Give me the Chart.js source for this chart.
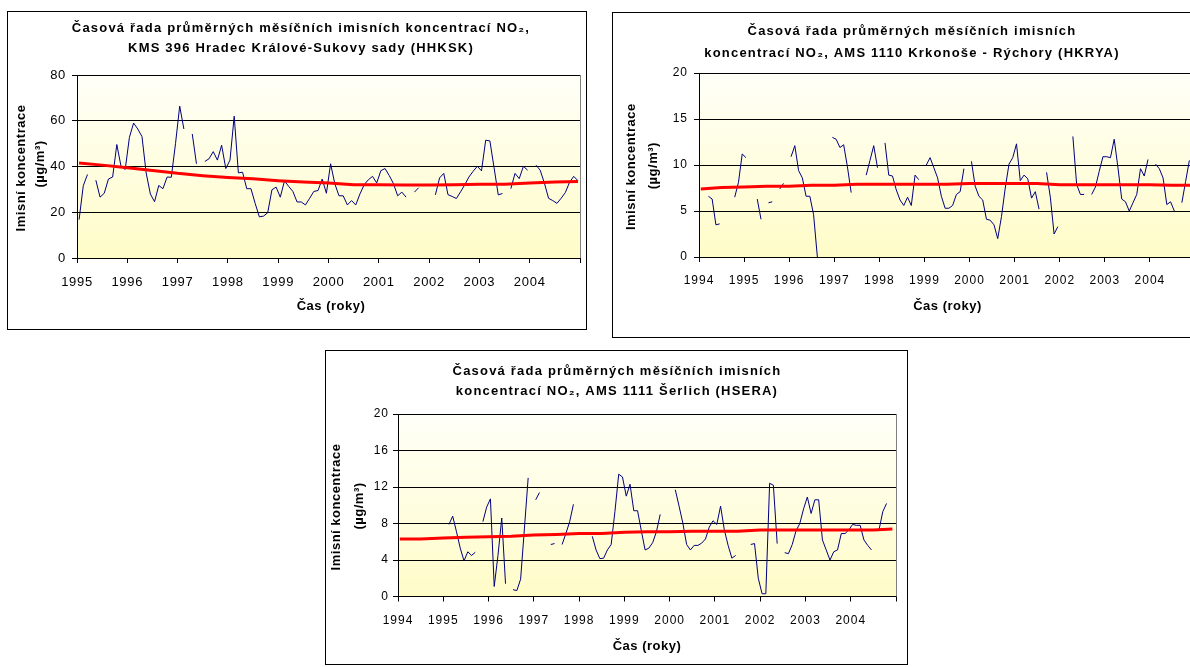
<!DOCTYPE html>
<html><head><meta charset="utf-8">
<script src="https://cdn.jsdelivr.net/npm/chart.js@4.4.1/dist/chart.umd.min.js"></script>
<style>
html,body{margin:0;padding:0;background:#fff;overflow:hidden;width:1190px;height:667px;position:relative;}
canvas{position:absolute;}
</style></head><body>
<canvas id="c1" width="580" height="319" style="left:7px;top:11px;width:580px;height:319px"></canvas>
<canvas id="c2" width="600" height="326" style="left:612px;top:12px;width:600px;height:326px"></canvas>
<canvas id="c3" width="583" height="315" style="left:325px;top:350px;width:583px;height:315px"></canvas>
<script>
// ---------- DATA ----------
// Chart 1: KMS 396 Hradec Králové-Sukovy sady, monthly means Jan 1995 – Dec 2004
const hhkskStartYear = 1995;
const hhkskValues = [
  16.8,31.6,36.5,null,34.0,26.6,28.3,34.5,35.4,49.6,40.1,38.7,
  52.7,59.0,56.4,53.1,37.2,28.0,24.6,31.7,30.3,35.4,35.3,50.0,
  66.4,56.4,null,54.2,41.2,null,42.2,43.4,46.5,42.8,49.3,39.1,
  42.8,62.0,37.2,37.5,30.3,30.3,23.9,18.0,18.3,19.8,29.8,31.0,
  26.6,33.7,31.3,29.1,24.5,24.5,23.2,26.1,29.1,29.5,34.5,28.3,
  41.2,32.5,27.2,27.2,23.2,25.1,23.2,28.0,32.0,34.2,35.7,32.8,
  38.2,39.1,36.0,32.5,27.2,28.8,26.6,null,28.8,30.7,null,null,
  null,27.6,35.0,37.0,27.7,26.9,26.0,28.9,32.0,35.4,37.9,40.1,
  38.1,51.5,51.2,39.5,27.6,28.2,null,30.3,37.0,34.7,40.1,38.4,
  null,40.6,38.4,32.8,26.1,25.1,23.9,26.1,28.6,33.1,35.7,33.8
];
const hhkskTrendX = [1995.04,1995.5,1996,1996.5,1997,1997.5,1998,1998.5,1999,1999.5,2000,2000.5,2001,2001.5,2002,2002.5,2003,2003.5,2004,2004.5,2004.96];
const hhkskTrendY = [41.5,40.6,39.5,38.3,37.0,36.0,35.2,34.6,33.8,33.2,32.8,32.0,32.0,31.9,31.9,32.0,32.2,32.2,32.8,33.2,33.4];

// Chart 2: AMS 1110 Krkonoše - Rýchory, monthly means Jan 1994 – Dec 2004
const hkryaStartYear = 1994;
const hkryaValues = [
  null,null,6.6,6.3,3.5,3.6,null,null,null,6.5,8.1,11.2,
  10.8,null,null,6.3,4.1,null,5.9,6.0,null,7.4,8.0,null,
  10.9,12.1,9.4,8.6,6.6,6.6,4.6,0.0,null,null,null,13.0,
  12.8,11.9,12.2,9.8,7.0,null,null,null,8.9,10.5,12.1,9.7,
  null,12.4,8.9,8.8,7.3,6.2,5.6,6.5,5.6,8.9,8.4,null,
  10.0,10.8,9.7,8.6,6.6,5.3,5.3,5.6,6.8,7.1,9.6,null,
  10.4,7.7,6.6,6.2,4.1,4.0,3.5,2.0,4.4,7.5,10.1,10.8,
  12.3,8.3,8.9,8.5,6.4,7.1,5.2,null,9.2,6.5,2.5,3.3,
  null,null,null,13.1,7.9,6.8,6.8,null,6.8,7.6,9.3,10.9,
  10.9,10.8,12.8,9.7,6.3,6.0,5.0,5.9,6.8,9.6,8.8,10.6,
  null,10.1,9.6,8.6,5.7,6.0,5.0,null,5.9,8.2,10.5,null
];
const hkryaTrendX = [1994.04,1994.5,1995,1995.5,1996,1996.5,1997,1997.5,1998,1998.5,1999,1999.5,2000,2000.5,2001,2001.5,2002,2002.5,2003,2003.5,2004,2004.5,2004.96];
const hkryaTrendY = [7.4,7.55,7.6,7.7,7.7,7.8,7.8,7.9,7.9,7.9,7.9,7.9,8.0,8.0,8.0,8.0,7.85,7.85,7.85,7.85,7.85,7.8,7.8];

// Chart 3: AMS 1111 Šerlich, monthly means Jan 1994 – Dec 2004
const hseraStartYear = 1994;
const hseraValues = [
  null,null,null,null,null,null,null,null,null,null,null,null,
  null,7.9,8.8,7.1,5.3,3.9,4.9,4.5,4.85,null,8.2,9.8,
  10.7,1.1,4.5,8.6,1.4,null,0.75,0.65,1.9,7.4,13.0,null,
  10.6,11.4,null,null,5.7,5.8,null,5.7,6.9,8.2,10.1,null,
  null,null,null,6.6,5.1,4.15,4.2,5.1,5.7,9.3,13.4,13.1,
  11.0,12.3,9.4,9.4,7.2,5.1,5.3,5.9,7.1,9.0,null,null,
  null,11.7,9.9,8.05,5.7,5.1,5.6,5.6,5.85,6.3,7.6,8.3,
  7.9,9.9,7.3,5.6,4.2,4.5,null,null,null,5.7,5.8,2.0,
  0.3,0.3,12.4,12.2,5.8,null,4.8,4.7,5.7,7.2,8.0,9.6,
  10.9,9.1,10.6,10.6,6.2,5.1,4.0,4.9,5.1,6.9,6.9,7.3,
  7.9,7.8,7.8,6.2,5.6,5.1,null,7.3,9.3,10.2,null,null
];
const hseraTrendX = [1994.04,1994.5,1995,1995.5,1996,1996.5,1997,1997.5,1998,1998.5,1999,1999.5,2000,2000.5,2001,2001.5,2002,2002.5,2003,2003.5,2004,2004.5,2004.92];
const hseraTrendY = [6.3,6.3,6.4,6.5,6.55,6.6,6.75,6.8,6.9,6.9,7.05,7.1,7.1,7.15,7.15,7.15,7.3,7.3,7.3,7.3,7.3,7.3,7.4];

// Texts
const title1 = ['Časová řada průměrných měsíčních imisních koncentrací NO₂,', 'KMS 396 Hradec Králové-Sukovy sady (HHKSK)'];
const title2 = ['Časová řada průměrných měsíčních imisních', 'koncentrací NO₂, AMS 1110 Krkonoše - Rýchory (HKRYA)'];
const title3 = ['Časová řada průměrných měsíčních imisních', 'koncentrací NO₂, AMS 1111 Šerlich (HSERA)'];
const yTitle = ['Imisní koncentrace', '(µg/m³)'];
const xTitle = 'Čas (roky)';

// ---------- RENDER ----------
const FONT = "'Liberation Sans', Arial, Helvetica, sans-serif";
function monthly(start, vals){ return vals.map((v,i)=>({x: start + (i+0.5)/12, y: v})); }
function pairs(xs, ys){ return xs.map((x,i)=>({x: x, y: ys[i]})); }

const decor = {
  id: 'decor',
  beforeDraw(chart, args, o){
    const ctx = chart.ctx, a = chart.chartArea;
    ctx.save();
    ctx.fillStyle = '#fff';
    ctx.fillRect(0,0,chart.width,chart.height);
    const g = ctx.createLinearGradient(0, a.top, 0, a.bottom);
    g.addColorStop(0, '#FFFFF8');
    g.addColorStop(1, '#FFFCC8');
    ctx.fillStyle = g;
    ctx.fillRect(a.left, a.top, a.right - a.left, a.bottom - a.top);
    ctx.restore();
    try { ctx.letterSpacing = o.tickSpacing + 'px'; } catch(e){}
  },
  afterDraw(chart, args, o){
    const ctx = chart.ctx, a = chart.chartArea;
    try { ctx.letterSpacing = '0px'; } catch(e){}
    ctx.save();
    ctx.strokeStyle = '#808080'; ctx.lineWidth = 1;
    const rx = Math.round(a.right) + 0.5;
    ctx.beginPath(); ctx.moveTo(rx, a.top); ctx.lineTo(rx, a.bottom); ctx.stroke();
    ctx.strokeStyle = '#000';
    ctx.strokeRect(0.5, 0.5, chart.width - 1, chart.height - 1);
    ctx.fillStyle = '#000';
    ctx.textAlign = 'center'; ctx.textBaseline = 'alphabetic';
    ctx.font = 'bold 13px ' + FONT;
    try { ctx.letterSpacing = o.titleSpacing + 'px'; } catch(e){}
    o.title.forEach((t,i)=> ctx.fillText(t, o.titleX, o.titleY[i]));
    try { ctx.letterSpacing = o.axisSpacing + 'px'; } catch(e){}
    ctx.fillText(xTitle, o.xTitleX, o.xTitleY);
    yTitle.forEach((t,i)=>{
      ctx.save();
      ctx.translate(o.yTitleX[i], o.yTitleY[i]);
      ctx.rotate(-Math.PI/2);
      ctx.fillText(t, 0, 0);
      ctx.restore();
    });
    try { ctx.letterSpacing = '0px'; } catch(e){}
    ctx.restore();
  }
};

function makeChart(id, c){
  return new Chart(document.getElementById(id), {
    type: 'line',
    data: { datasets: [
      { data: pairs(c.trendX, c.trendY), borderColor: '#FF0000', borderWidth: 3, pointRadius: 0, tension: 0 },
      { data: monthly(c.start, c.values), borderColor: '#000080', borderWidth: 1, pointRadius: 0, spanGaps: false, tension: 0 }
    ]},
    options: {
      responsive: false, animation: false, devicePixelRatio: 1,
      layout: { padding: { left: 0, top: c.padTop, right: c.padRight, bottom: c.padBottom } },
      plugins: {
        legend: { display: false }, tooltip: { enabled: false }, title: { display: false },
        decor: c.decor
      },
      scales: {
        x: {
          type: 'linear', min: c.xMin, max: c.xMax,
          afterFit: s => { s.height = 30; s.paddingLeft = 0; s.paddingRight = 0; },
          ticks: { stepSize: 1, maxTicksLimit: 20, autoSkip: false, maxRotation: 0, minRotation: 0,
                   padding: c.xPad, color: '#000', font: { family: FONT, size: c.tickSize },
                   callback: v => v === c.xMax ? '' : String(v) },
          grid: { drawOnChartArea: false, drawTicks: true, tickLength: 5, tickColor: '#000', color: '#000' },
          border: { display: true, color: '#000', width: 1 }
        },
        y: {
          min: 0, max: c.yMax,
          afterFit: s => { s.width = c.yWidth; s.paddingTop = 0; s.paddingBottom = 0; },
          ticks: { stepSize: c.yStep, padding: c.yPad, color: '#000', font: { family: FONT, size: c.tickSize },
                   callback: v => String(v) },
          grid: { color: '#000', lineWidth: 1, drawTicks: true, tickLength: 5, tickColor: '#000' },
          border: { display: true, color: '#000', width: 1 }
        }
      }
    },
    plugins: [decor]
  });
}

makeChart('c1', {
  start: hhkskStartYear, values: hhkskValues, trendX: hhkskTrendX, trendY: hhkskTrendY,
  xMin: 1995, xMax: 2005, yMax: 80, yStep: 20, yWidth: 70,
  padTop: 64, padRight: 7, padBottom: 42, xPad: 12, yPad: 6, tickSize: 13,
  decor: { title: title1, titleX: 294, titleY: [20.7, 40.7], xTitleX: 324, xTitleY: 299,
           yTitleX: [18, 37], yTitleY: [157, 153], tickSpacing: 0.7, titleSpacing: 1.2, axisSpacing: 0.5 }
});
makeChart('c2', {
  start: hkryaStartYear, values: hkryaValues, trendX: hkryaTrendX, trendY: hkryaTrendY,
  xMin: 1994, xMax: 2005, yMax: 20, yStep: 5, yWidth: 87,
  padTop: 61, padRight: 17, padBottom: 51, xPad: 11, yPad: 6, tickSize: 12,
  decor: { title: title2, titleX: 300, titleY: [23, 44.7], xTitleX: 335.5, xTitleY: 298,
           yTitleX: [23, 45], yTitleY: [154.7, 153.7], tickSpacing: 1, titleSpacing: 1.2, axisSpacing: 0.5 }
});
makeChart('c3', {
  start: hseraStartYear, values: hseraValues, trendX: hseraTrendX, trendY: hseraTrendY,
  xMin: 1994, xMax: 2005, yMax: 20, yStep: 4, yWidth: 73,
  padTop: 64, padRight: 12, padBottom: 38.5, xPad: 12, yPad: 4, tickSize: 12,
  decor: { title: title3, titleX: 292, titleY: [24.7, 44.7], xTitleX: 322, xTitleY: 299.7,
           yTitleX: [15, 37.5], yTitleY: [157, 156], tickSpacing: 1, titleSpacing: 1.2, axisSpacing: 0.5 }
});
</script>
</body></html>
